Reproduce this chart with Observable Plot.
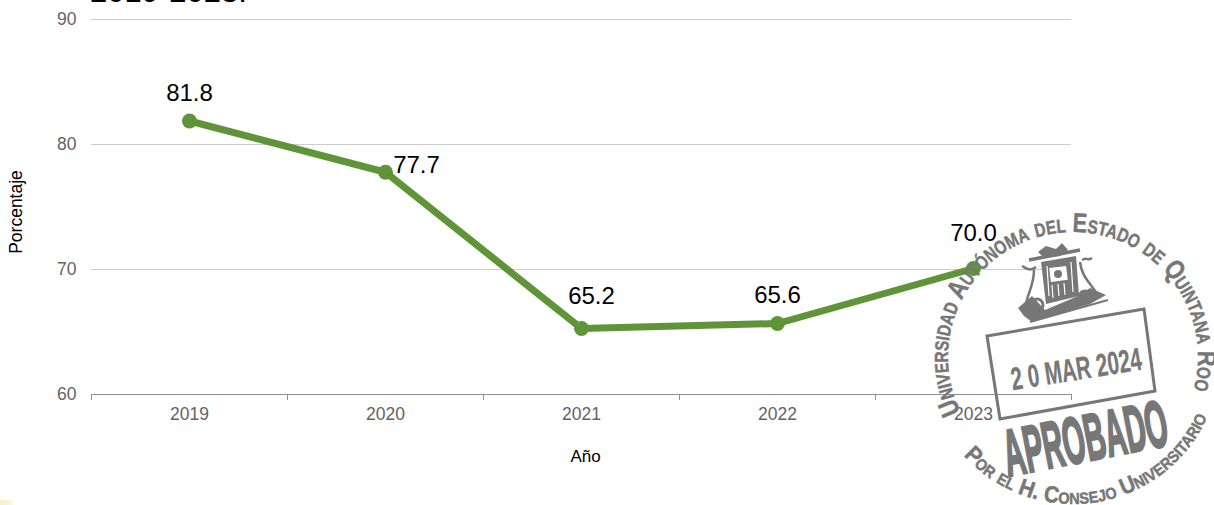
<!DOCTYPE html>
<html lang="es"><head><meta charset="utf-8">
<script src="https://cdn.jsdelivr.net/npm/d3@7"></script>
<script src="https://cdn.jsdelivr.net/npm/@observablehq/plot@0.6"></script>
<style>
html,body{margin:0;padding:0;background:#fff;overflow:hidden}
#wrap{position:relative;width:1214px;height:505px;overflow:hidden;font-family:"Liberation Sans",Arial,sans-serif}
#head{position:absolute;left:90px;top:-26px;font-size:31px;line-height:36px;color:#000;white-space:nowrap}
#corner{position:absolute;left:0;top:500px;width:13px;height:5px;background:linear-gradient(90deg,#f8efc6,#fbf6de)}
#stamp{position:absolute;left:0;top:0}
#stamp text{font-family:"Liberation Sans",Arial,sans-serif;font-weight:700;fill:#777;stroke:#777}
</style></head><body>
<div id="wrap"><div id="head">2019-2023.</div><div id="corner"></div></div>
<script>
const years=[2019,2020,2021,2022,2023];
const values=[81.8,77.7,65.2,65.6,70.0];
const yTicks=[60,70,80,90];
const bandEdges=[2018.5,2019.5,2020.5,2021.5,2022.5,2023.5];
const rows=years.map((year,i)=>({year,value:values[i]}));
const only=(...ys)=>rows.filter(d=>ys.includes(d.year));
const label={x:"year",y:"value",text:d=>d.value.toFixed(1),fontSize:24,fill:"#000"};
const plot=Plot.plot({
  width:1214,height:505,marginLeft:91,marginRight:143,marginTop:19,marginBottom:111,
  style:{fontFamily:'"Liberation Sans",Arial,sans-serif',background:"transparent",overflow:"visible"},
  x:{type:"linear",domain:[2018.5,2023.5],label:null},
  y:{domain:[60,90],label:null},
  marks:[
    Plot.ruleY(yTicks.filter(v=>v>60),{stroke:"#cdcdcd",strokeWidth:1,strokeOpacity:1}),
    Plot.ruleY([60],{stroke:"#8f8f8f",strokeWidth:1,strokeOpacity:1}),
    Plot.axisX({ticks:bandEdges,tickFormat:()=>"",tickSize:6,stroke:"#8f8f8f",label:null}),
    Plot.axisX({ticks:years,tickFormat:d=>String(d),tickSize:0,tickPadding:13,fontSize:17.5,fill:"#636363",label:null}),
    Plot.axisY({ticks:yTicks,tickSize:0,tickPadding:15,fontSize:17.5,fill:"#636363",label:null}),
    Plot.text(["Año"],{frameAnchor:"bottom",dx:4,dy:67,fontSize:17,fill:"#000"}),
    Plot.text(["Porcentaje"],{frameAnchor:"left",textAnchor:"middle",rotate:-90,dx:-75,dy:5,fontSize:17.5,fill:"#000"}),
    Plot.line(rows,{x:"year",y:"value",dy:-1,stroke:"#5f9439",strokeWidth:7,strokeLinejoin:"round"}),
    Plot.dot(rows,{x:"year",y:"value",dy:-1,r:7.5,fill:"#5f9439"}),
    Plot.text(only(2019,2022),{...label,dy:-29}),
    Plot.text(only(2023),{...label,dy:-36}),
    Plot.text(only(2020),{...label,dx:31,dy:-8}),
    Plot.text(only(2021),{...label,dx:10,dy:-33})
  ]
});
const wrap=document.getElementById("wrap");
wrap.insertBefore(plot,wrap.firstChild);

// Rubber stamp laid over the chart
const NS="http://www.w3.org/2000/svg";
const st=document.createElementNS(NS,"svg");
st.id="stamp";st.setAttribute("width",1214);st.setAttribute("height",505);
const cx=1073,cy=357;
const pt=(r,a)=>[cx+r*Math.cos(a*Math.PI/180),cy+r*Math.sin(a*Math.PI/180)];
const [ax,ay]=pt(125,154),[bx,by]=pt(125,40),[px,py]=pt(147,138),[qx,qy]=pt(147,10);
st.innerHTML=`
<defs>
<path id="arcTop" d="M${ax} ${ay}A125 125 0 1 1 ${bx} ${by}"/>
<path id="arcBot" d="M${px} ${py}A147 147 0 0 0 ${qx} ${qy}"/>
</defs>
<text font-size="27" stroke-width=".5" style="font-variant:small-caps"><textPath href="#arcTop" textLength="482" lengthAdjust="spacingAndGlyphs">Universidad Autónoma del Estado de Quintana Roo</textPath></text>
<text font-size="23" stroke-width=".5" style="font-variant:small-caps"><textPath href="#arcBot" textLength="292" lengthAdjust="spacingAndGlyphs">Por el H. Consejo Universitario</textPath></text>
<g fill="none" stroke="#777">
  <path stroke-width="3" d="M987 336L1144 309L1155 391L1000 419Z"/>
  <path stroke-width="3.5" d="M1029 260L1080 250"/>
  <path stroke-width="2.5" d="M1036 267C1030 272 1026 268 1022 266M1082 260C1088 256 1086 262 1092 258"/>
  <path stroke-width="2.5" d="M1034 270C1034 285 1028 292 1026 304M1080 262C1082 278 1090 282 1097 294"/>
  <path stroke-width="2" d="M1030 322L1108 300"/>
  <circle cx="1037" cy="305" r="6" stroke-width="3"/><circle cx="1085" cy="297" r="6" stroke-width="3"/>
</g>
<path fill="#777" d="M1038 252L1046 246L1056 249L1062 243L1068 250L1060 256L1044 258Z"/>
<path fill="#777" d="M1041 262L1076 256L1079 296L1046 304Z"/>
<path fill="#777" d="M1018 308L1032 296L1045 310L1078 296L1090 288L1106 295L1090 304L1032 322L1024 316Z"/>
<path fill="none" stroke="#fff" stroke-width="1.2" d="M1047 266L1049 296M1052 285L1053 298M1058 284L1059 296M1064 283L1065 295M1071 262L1073 292"/>
<rect x="1050" y="267" width="17" height="14" fill="#fff" transform="rotate(-7 1058 274)"/>
<circle cx="1058" cy="274" r="4" fill="#777"/>
<text x="1076" y="380" text-anchor="middle" font-size="32" stroke-width=".3" textLength="132" lengthAdjust="spacingAndGlyphs" transform="rotate(-9 1076 368)">2 0 MAR 2024</text>
<text x="1085" y="461" text-anchor="middle" font-size="66" stroke-width="2.5" textLength="166" lengthAdjust="spacingAndGlyphs" transform="rotate(-11 1085 437)">APROBADO</text>`;
wrap.appendChild(st);
</script></body></html>
